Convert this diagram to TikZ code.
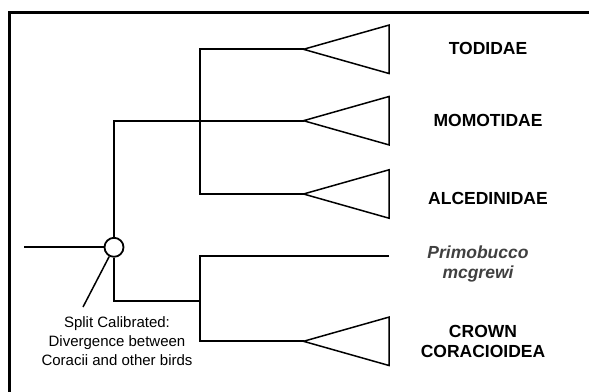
\documentclass[tikz,border=0pt]{standalone}
\usepackage{fontspec}
\setmainfont{Liberation Sans}
\tikzset{
  branch/.style={line width=1.8pt, line join=miter},
  clade/.style={line width=1.5pt, line join=miter},
  taxon/.style={font=\fontsize{17.5}{20}\selectfont\bfseries, align=center, inner sep=0pt},
  fossil/.style={font=\fontsize{17.5}{20}\selectfont\bfseries\itshape, text=black!75, align=center, inner sep=0pt},
  note/.style={font=\fontsize{15}{18.8}\selectfont, align=center, inner sep=0pt},
  calib/.style={circle, draw, line width=1.8pt, fill=white, minimum size=19pt, inner sep=0pt}
}
\begin{document}
\begin{tikzpicture}[x=1pt, y=-1pt]
\useasboundingbox (0,0) rectangle (589,391);
% frame
\draw[line width=3pt] (9.5,402) -- (9.5,12) -- (600,12);

% coordinates
\coordinate (root) at (24,247.3);
\coordinate (tTod) at (303.5,49.3);
\coordinate (tMom) at (303.5,120.7);
\coordinate (tAlc) at (303.5,194);
\coordinate (tCro) at (303.5,341.3);
\coordinate (pEnd) at (389,256);
\coordinate (jTop) at (200,49.3);
\coordinate (jBot) at (200,194);
\coordinate (kTop) at (200,256);
\coordinate (kBot) at (200,341.3);
\coordinate (kMid) at (200,300.7);
\coordinate (ptr) at (83,307);

% triangles
\foreach \t in {tTod,tMom,tAlc,tCro}{
  \draw[clade] (\t) -- ++(85.5,-24.2) -- ++(0,48.4) -- cycle;
}

% calibration node
\node[calib] (cal) at (114,247.3) {};

% tree
\draw[branch] (root) -- (cal.west);
\draw[branch] (cal.north) |- (tMom);
\draw[branch] (tTod) -- (jTop) -- (jBot) -- (tAlc);
\draw[branch] (cal.south) |- (kMid);
\draw[branch] (pEnd) -- (kTop) -- (kBot) -- (tCro);
\draw[line width=1.5pt] (cal) -- (ptr);

% labels
\node[taxon] (tod) at (488,48.3) {TODIDAE};
\node[taxon] (mom) at (488,120.7) {MOMOTIDAE};
\node[taxon] (alc) at (488,198.3) {ALCEDINIDAE};
\node[fossil] (pri) at (478,264) {Primobucco\\mcgrewi};
\node[taxon] (cro) at (483,341.7) {CROWN\\CORACIOIDEA};
\node[note] (split) at (117,341) {Split Calibrated:\\Divergence between\\Coracii and other birds};
\end{tikzpicture}
\end{document}
